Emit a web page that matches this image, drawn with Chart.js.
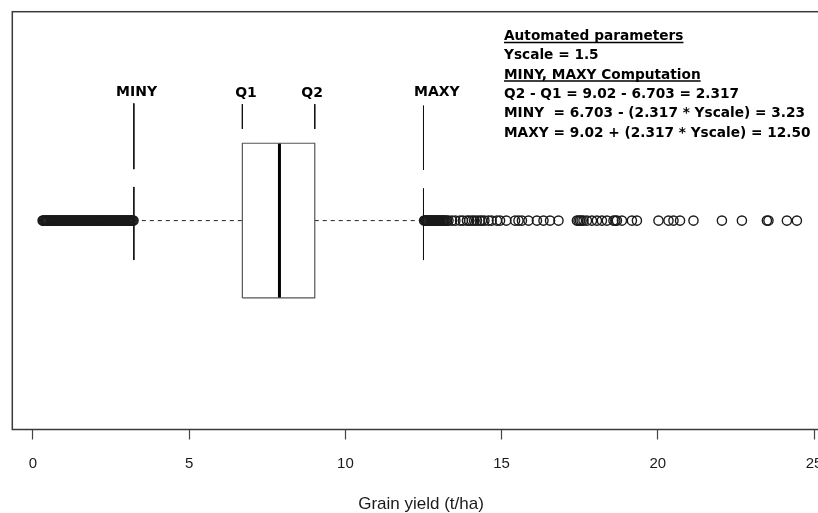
<!DOCTYPE html>
<html>
<head>
<meta charset="utf-8">
<script src="https://cdn.jsdelivr.net/npm/chart.js@4.4.0/dist/chart.umd.min.js"></script>
<style>
    html, body { margin: 0; padding: 0; background: #fff; overflow: hidden; }
    #wrap { width: 842px; height: 513px; }
</style>
</head>
<body>
<div id="wrap"><canvas id="box-chart"></canvas></div>
<script>
// values
var xTicks = [0, 5, 10, 15, 20, 25];
var axisTitle = 'Grain yield (t/ha)';

var q1 = 6.703;
var median = 7.89;
var q3 = 9.02;
var minY = 3.23;
var maxY = 12.50;

var markerNames = ['MINY', 'Q1', 'Q2', 'MAXY'];
var markerValues = [minY, q1, q3, maxY];

var lowOutliers = [0.31, 0.33, 0.36, 0.39, 0.42, 0.45, 0.47, 0.5, 0.53, 0.56, 0.58, 0.61, 0.64, 0.67, 0.7,
    0.72, 0.75, 0.78, 0.81, 0.84, 0.86, 0.89, 0.92, 0.95, 0.98, 1.0, 1.03, 1.06, 1.09, 1.12, 1.14, 1.17,
    1.2, 1.23, 1.26, 1.28, 1.31, 1.34, 1.37, 1.4, 1.42, 1.45, 1.48, 1.51, 1.54, 1.56, 1.59, 1.62, 1.65,
    1.68, 1.7, 1.73, 1.76, 1.79, 1.82, 1.84, 1.87, 1.9, 1.93, 1.96, 1.98, 2.01, 2.04, 2.07, 2.1, 2.12,
    2.15, 2.18, 2.21, 2.24, 2.26, 2.29, 2.32, 2.35, 2.38, 2.4, 2.43, 2.46, 2.49, 2.52, 2.54, 2.57, 2.6,
    2.63, 2.66, 2.68, 2.71, 2.74, 2.77, 2.8, 2.82, 2.85, 2.88, 2.91, 2.94, 2.96, 2.99, 3.02, 3.05, 3.08,
    3.1, 3.13, 3.16, 3.19, 3.22];

var highOutliers = [12.52, 12.55, 12.58, 12.6, 12.63, 12.66, 12.69, 12.72, 12.74, 12.77, 12.8, 12.83,
    12.86, 12.88, 12.91, 12.94, 12.97, 13.0, 13.02, 13.05, 13.08, 13.11, 13.14, 13.17, 13.2, 13.25, 13.3,
    13.41, 13.52, 13.67, 13.76, 13.89, 13.96, 14.05, 14.12, 14.21, 14.3, 14.37, 14.45, 14.58, 14.68,
    14.85, 14.95, 15.15, 15.43, 15.54, 15.65, 15.86, 16.13, 16.34, 16.55, 16.82, 17.41, 17.46, 17.51,
    17.56, 17.62, 17.73, 17.89, 18.05, 18.21, 18.37, 18.58, 18.64, 18.69, 18.85, 19.17, 19.33, 20.02,
    20.34, 20.5, 20.71, 21.14, 22.05, 22.69, 23.49, 23.54, 24.13, 24.45];

var paramLines = [
    'Automated parameters',
    'Yscale = 1.5',
    'MINY, MAXY Computation',
    'Q2 - Q1 = 9.02 - 6.703 = 2.317',
    'MINY  = 6.703 - (2.317 * Yscale) = 3.23',
    'MAXY = 9.02 + (2.317 * Yscale) = 12.50'
];
var underlined = [true, false, true, false, false, false];

// box sits at y = 1 on a hidden 0.46..1.54 scale
var boxLow = 0.8, boxHigh = 1.2;

function segment(points, width, color, dash) {
    return {
        data: points,
        showLine: true,
        borderColor: color,
        borderWidth: width,
        borderDash: dash || [],
        borderCapStyle: 'butt',
        pointRadius: 0,
        fill: false
    };
}

function makeDatasets() {
    var sets = [];
    var outliers = lowOutliers.concat(highOutliers).map(function (v) {
        return {x: v, y: 1};
    });
    sets.push({
        data: outliers,
        showLine: false,
        pointStyle: 'circle',
        pointRadius: 4.6,
        pointBorderWidth: 1.4,
        pointBorderColor: '#1a1a1a',
        pointBackgroundColor: 'rgba(0,0,0,0)'
    });
    // box
    sets.push(segment([
        {x: q1, y: boxLow}, {x: q3, y: boxLow}, {x: q3, y: boxHigh},
        {x: q1, y: boxHigh}, {x: q1, y: boxLow}
    ], 1.2, '#555'));
    sets.push(segment([{x: median, y: boxLow}, {x: median, y: boxHigh}], 3, '#000'));
    // whiskers
    sets.push(segment([{x: minY, y: 1}, {x: q1, y: 1}], 1, '#222', [4, 4]));
    sets.push(segment([{x: q3, y: 1}, {x: maxY, y: 1}], 1, '#222', [4, 4]));
    // marker lines under the labels
    var tops = [1.303, 1.301, 1.301, 1.297];
    var bottoms = [1.133, 1.237, 1.237, 1.131];
    for (var i = 0; i < markerValues.length; i++) {
        sets.push(segment([{x: markerValues[i], y: tops[i]}, {x: markerValues[i], y: bottoms[i]}], 1, '#111'));
    }
    sets.push(segment([{x: minY, y: 1.087}, {x: minY, y: 0.898}], 1, '#111'));
    sets.push(segment([{x: maxY, y: 1.083}, {x: maxY, y: 0.898}], 1, '#111'));
    return sets;
}

var framePlugin = {
    id: 'frame',
    afterDatasetsDraw: function (chart) {
        var a = chart.chartArea;
        var ctx = chart.ctx;
        ctx.save();
        ctx.strokeStyle = '#3a3a3a';
        ctx.lineWidth = 1.5;
        ctx.strokeRect(a.left, a.top, a.right - a.left, a.bottom - a.top);
        ctx.restore();
    }
};

var textPlugin = {
    id: 'texts',
    afterDraw: function (chart) {
        var ctx = chart.ctx;
        var xs = chart.scales.x;
        var labelShift = [2.7, 3.6, -2.6, 13.4];
        ctx.save();
        ctx.fillStyle = '#000';
        ctx.textAlign = 'center';
        ctx.textBaseline = 'alphabetic';
        ctx.font = 'bold 14px "DejaVu Sans"';
        for (var i = 0; i < markerNames.length; i++) {
            var px = xs.getPixelForValue(markerValues[i]) + labelShift[i];
            ctx.fillText(markerNames[i], px, i === 1 || i === 2 ? 97 : 95.5);
        }
        ctx.textAlign = 'left';
        ctx.font = 'bold 13.7px "DejaVu Sans"';
        ctx.strokeStyle = '#000';
        ctx.lineWidth = 1.5;
        for (var j = 0; j < paramLines.length; j++) {
            var y = 40 + j * 19.3;
            ctx.fillText(paramLines[j], 504, y);
            if (underlined[j]) {
                var w = ctx.measureText(paramLines[j]).width;
                ctx.beginPath();
                ctx.moveTo(504, y + 2.5);
                ctx.lineTo(504 + w, y + 2.5);
                ctx.stroke();
            }
        }
        ctx.restore();
    }
};

var ctx = document.getElementById('box-chart');
var chart = new Chart(ctx, {
    type: 'scatter',
    data: {
        datasets: makeDatasets()
    },
    options: {
        responsive: true,
        maintainAspectRatio: false,
        animation: false,
        events: [],
        layout: {
            padding: {top: 11.7, left: 12.3, right: 12.3, bottom: 0}
        },
        plugins: {
            legend: {display: false},
            tooltip: {enabled: false}
        },
        scales: {
            x: {
                type: 'linear',
                min: -0.66,
                max: 25.5,
                afterBuildTicks: function (scale) {
                    scale.ticks = xTicks.map(function (v) { return {value: v}; });
                },
                afterFit: function (scale) {
                    scale.height = 83.5;
                },
                ticks: {
                    font: {family: 'Liberation Sans', size: 15},
                    color: '#1a1a1a',
                    padding: 15,
                    maxRotation: 0,
                    autoSkip: false
                },
                grid: {
                    drawOnChartArea: false,
                    tickLength: 10,
                    tickColor: '#444',
                    tickWidth: 1.2
                },
                border: {display: false},
                title: {
                    display: true,
                    text: axisTitle,
                    font: {family: 'Liberation Sans', size: 17, lineHeight: 1},
                    color: '#1a1a1a',
                    padding: 0
                }
            },
            y: {
                type: 'linear',
                display: false,
                min: 0.46,
                max: 1.54
            }
        }
    },
    plugins: [framePlugin, textPlugin]
});
</script>
</body>
</html>
